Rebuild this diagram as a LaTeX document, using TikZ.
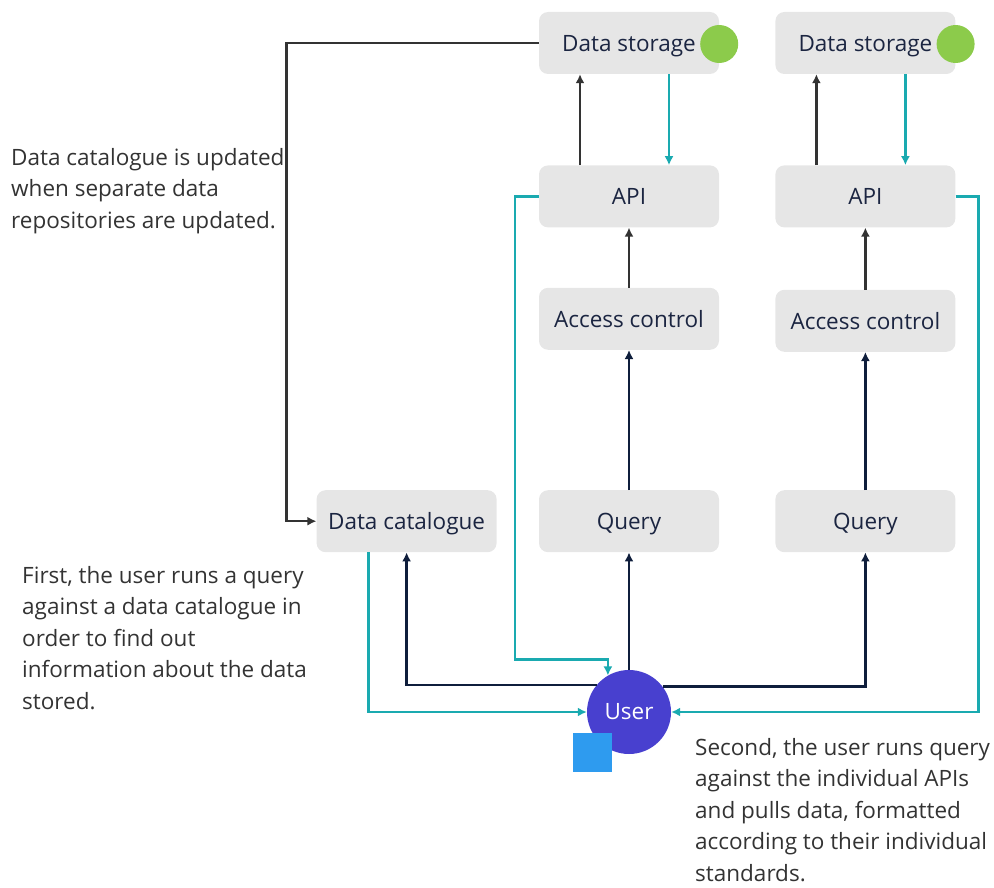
\documentclass[tikz,border=0pt]{standalone}
\usepackage{fontspec}
\setmainfont{Open Sans}
\usepackage{xcolor}
\usepackage{tikz}
\usetikzlibrary{positioning,arrows.meta,calc}
\definecolor{cBox}{HTML}{E6E6E6}
\definecolor{cInk}{HTML}{1B2541}
\definecolor{cNote}{HTML}{333333}
\definecolor{cNavy}{HTML}{0F1E3C}
\definecolor{cGry}{HTML}{333333}
\definecolor{cTeal}{HTML}{1AAAB0}
\definecolor{cUsr}{HTML}{4840CF}
\definecolor{cSq}{HTML}{2E9BEF}
\definecolor{cOk}{HTML}{8CCB4B}

\begin{document}
\begin{tikzpicture}[x=1pt,y=-1pt,
  font=\fontsize{22.5}{27}\selectfont,
  box/.style={rounded corners=9pt,fill=cBox,text=cInk,minimum width=180pt,minimum height=62pt,inner sep=0pt,text height=17pt,text depth=0pt},
  usr/.style={circle,fill=cUsr,text=white,minimum size=84pt,inner sep=0pt},
  dot/.style={circle,fill=cOk,minimum size=38pt,inner sep=0pt},
  sq/.style={fill=cSq,minimum size=39pt,inner sep=0pt},
  note/.style={text=cNote,align=left,anchor=north west,inner sep=0pt,font=\fontsize{22.5}{31.5}\selectfont},
  nar/.style={-{Latex[length=9pt,width=9pt]},line width=2.3pt,cNavy},
  gar/.style={-{Latex[length=9pt,width=9pt]},line width=2.3pt,cGry},
  tar/.style={-{Latex[length=9pt,width=9pt]},line width=2.3pt,cTeal}]
  \useasboundingbox (0,0) rectangle (994,888);
  % left column
  \node[box] (ds1) at (629,43) {Data storage};
  \node[box, below=91pt of ds1] (api1) {API};
  \node[box, below=60pt of api1] (ac1) {Access control};
  \node[box, below=140pt of ac1] (q1) {Query};
  % right column
  \node[box, right=56pt of ds1] (ds2) {Data storage};
  \node[box, below=91pt of ds2] (api2) {API};
  \node[box, below=62pt of api2] (ac2) {Access control};
  \node[box, below=138pt of ac2] (q2) {Query};
  \node[box, left=42pt of q1] (cat) {Data catalogue};
  \node[dot] (ok1) at ([yshift=-1pt]ds1.east) {};
  \node[dot] (ok2) at ([yshift=-1pt]ds2.east) {};
  \node[usr] (user) at (629,712) {User};
  \node[sq] (usq) at ([xshift=-37pt,yshift=-40pt]user.center) {};
  % storage <-> api
  \draw[gar] ([xshift=-49pt]api1.north) -- ([xshift=-49pt]ds1.south);
  \draw[tar] ([xshift=40pt]ds1.south) -- ([xshift=40pt]api1.north);
  \draw[gar] ([xshift=-49pt]api2.north) -- ([xshift=-49pt]ds2.south);
  \draw[tar] ([xshift=40pt]ds2.south) -- ([xshift=40pt]api2.north);
  \draw[gar] (ac1) -- (api1);
  \draw[gar] (ac2) -- (api2);
  \draw[nar] (q1) -- (ac1);
  \draw[nar] (q2) -- (ac2);
  % catalogue update
  \draw[gar] (ds1.west) -| ([xshift=-30pt]cat.west) -- (cat.west);
  % user queries
  \draw[nar] (user.north) -- (q1.south);
  \draw[nar] (user.140) -| (cat.south);
  \draw[nar] (user.37) -| (q2.south);
  % data back to user
  \draw[tar] ([xshift=-38pt]cat.south) |- (user.west);
  \draw[tar] (api1.west) -- ++(-24,0) |- ([yshift=16pt]user.120) -- (user.120);
  \draw[tar] (api2.east) -- ++(23,0) |- (user.east);
  % notes
  \node[note] (n1) at (11,148) {Data catalogue is updated\\when separate data\\repositories are updated.};
  \node[note] (n2) at (22,566) {First, the user runs a query\\against a data catalogue in\\order to find out\\information about the data\\stored.};
  \node[note] (n3) at (695,738) {Second, the user runs query\\against the individual APIs\\and pulls data, formatted\\according to their individual\\standards.};
\end{tikzpicture}
\end{document}
